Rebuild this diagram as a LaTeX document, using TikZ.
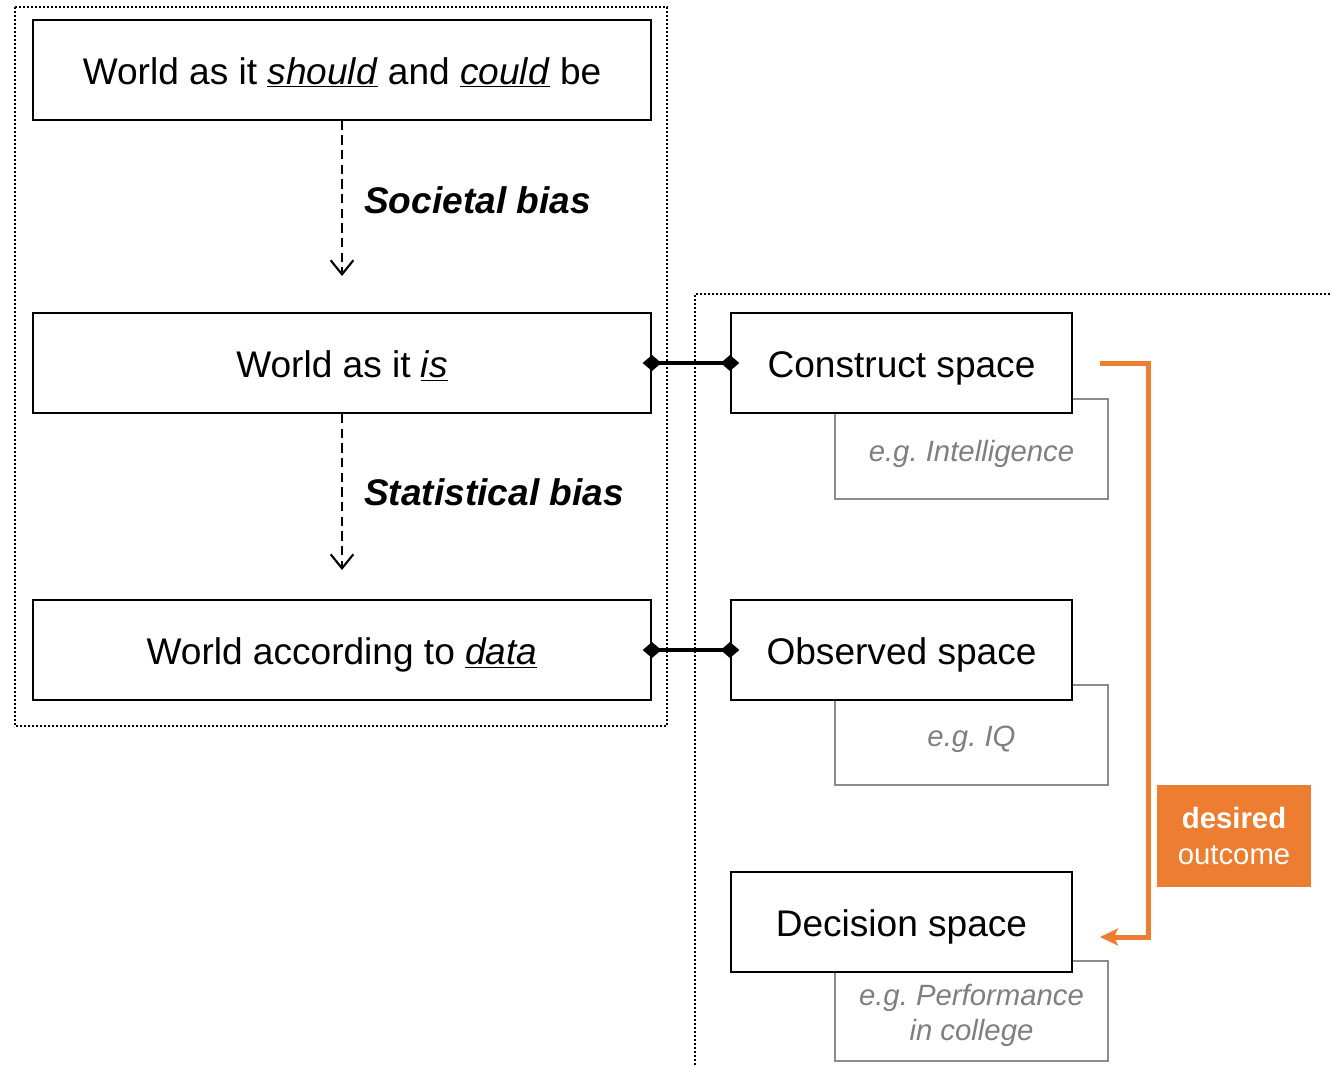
\documentclass[tikz,border=0pt]{standalone}
\usepackage{fontspec}
\setmainfont{Liberation Sans}
\usetikzlibrary{arrows.meta}
\definecolor{accent}{HTML}{ED7D31}
\definecolor{note}{HTML}{7F7F7F}
\definecolor{noteline}{HTML}{8C8C8C}
\frenchspacing

\begin{document}
\begin{tikzpicture}[x=0.75pt,y=-0.75pt,
  bigfont/.style={font=\fontsize{27.8}{33}\selectfont},
  worldbox/.style={draw=black, line width=1.5pt, fill=white, inner sep=0pt,
    minimum width=463.5pt, minimum height=75pt, text height=21.8pt,
    text depth=0pt, bigfont},
  spacebox/.style={draw=black, line width=1.5pt, fill=white, inner sep=0pt,
    minimum width=255.75pt, minimum height=75pt, text height=21.8pt,
    text depth=0pt, bigfont},
  examplebox/.style={draw=noteline, line width=1.5pt, fill=white, inner sep=0pt,
    minimum width=204.75pt, minimum height=75pt},
  exampletext/.style={text=note, align=center, inner sep=0pt,
    font=\fontsize{22}{26.5}\selectfont\itshape},
  outcomebox/.style={fill=accent, text=white, inner sep=0pt, align=center,
    minimum width=115.5pt, minimum height=76.5pt,
    font=\fontsize{22}{27}\selectfont},
  biaslabel/.style={anchor=west, inner sep=0pt,
    font=\fontsize{27.8}{33}\selectfont\bfseries\itshape},
  biasarrow/.style={line width=1.5pt, dash pattern=on 7pt off 4pt,
    -{Straight Barb[length=10.5pt,width=17pt,line width=1.6pt]}},
  link/.style={line width=3.3pt, shorten <=-7pt, shorten >=-7pt,
    {Diamond[length=14pt,width=12pt]}-{Diamond[length=14pt,width=12pt]}},
  accentline/.style={draw=accent, line width=3.75pt, line join=miter,
    -{Stealth[length=13.5pt,width=12.75pt,inset=3pt]}},
  frame/.style={line width=1.5pt, dash pattern=on 1.5pt off 1.5pt}
]
\useasboundingbox (0,0) rectangle (1332,1065);

% dotted frames around the two groups
\draw[frame] (15,7) rectangle (667,726);
\draw[frame] (695,1065) |- (1332,294);

% the three worlds
\node[worldbox] (should) at (342,69.5) {World as it \underline{\textit{should}} and \underline{\textit{could}} be};
\node[worldbox] (is) at (342,363) {World as it \underline{\textit{is}}};
\node[worldbox] (data) at (342,650) {World according to \underline{\textit{data}}};

% biases between the worlds
\draw[biasarrow, shorten >=27pt] (should.south) -- (is.north);
\draw[biasarrow, shorten >=21.75pt] (is.south) -- (data.north);
\node[biaslabel] (societal) at (364,200) {Societal bias};
\node[biaslabel] (statistical) at (364,492) {Statistical bias};

% example boxes behind the spaces
\node[examplebox] (ex1) at (971.5,449) {};
\node[examplebox] (ex2) at (971.5,735) {};
\node[examplebox] (ex3) at (971.5,1011) {};
\node[exampletext] (ex1text) at ([yshift=-3.5pt]ex1.center) {e.g. Intelligence};
\node[exampletext] (ex2text) at ([yshift=-3.5pt]ex2.center) {e.g. IQ};
\node[exampletext] (ex3text) at ([yshift=-3.5pt]ex3.center) {e.g. Performance\\in college};

% the three spaces
\node[spacebox] (construct) at (901.5,363) {Construct space};
\node[spacebox] (observed) at (901.5,650) {Observed space};
\node[spacebox] (decision) at (901.5,922) {Decision space};

% links between worlds and spaces
\draw[link] (is.east) -- (construct.west);
\draw[link] (data.east) -- (observed.west);

% desired outcome mapping
\coordinate (ostart) at (1100,363);
\coordinate (oend) at (1100,937);
\draw[accentline] (ostart) -- ++(48,0) |- (oend);
\node[outcomebox] (outcome) at (1234,836) {\textbf{desired}\\[0.5pt]outcome};
\end{tikzpicture}
\end{document}
